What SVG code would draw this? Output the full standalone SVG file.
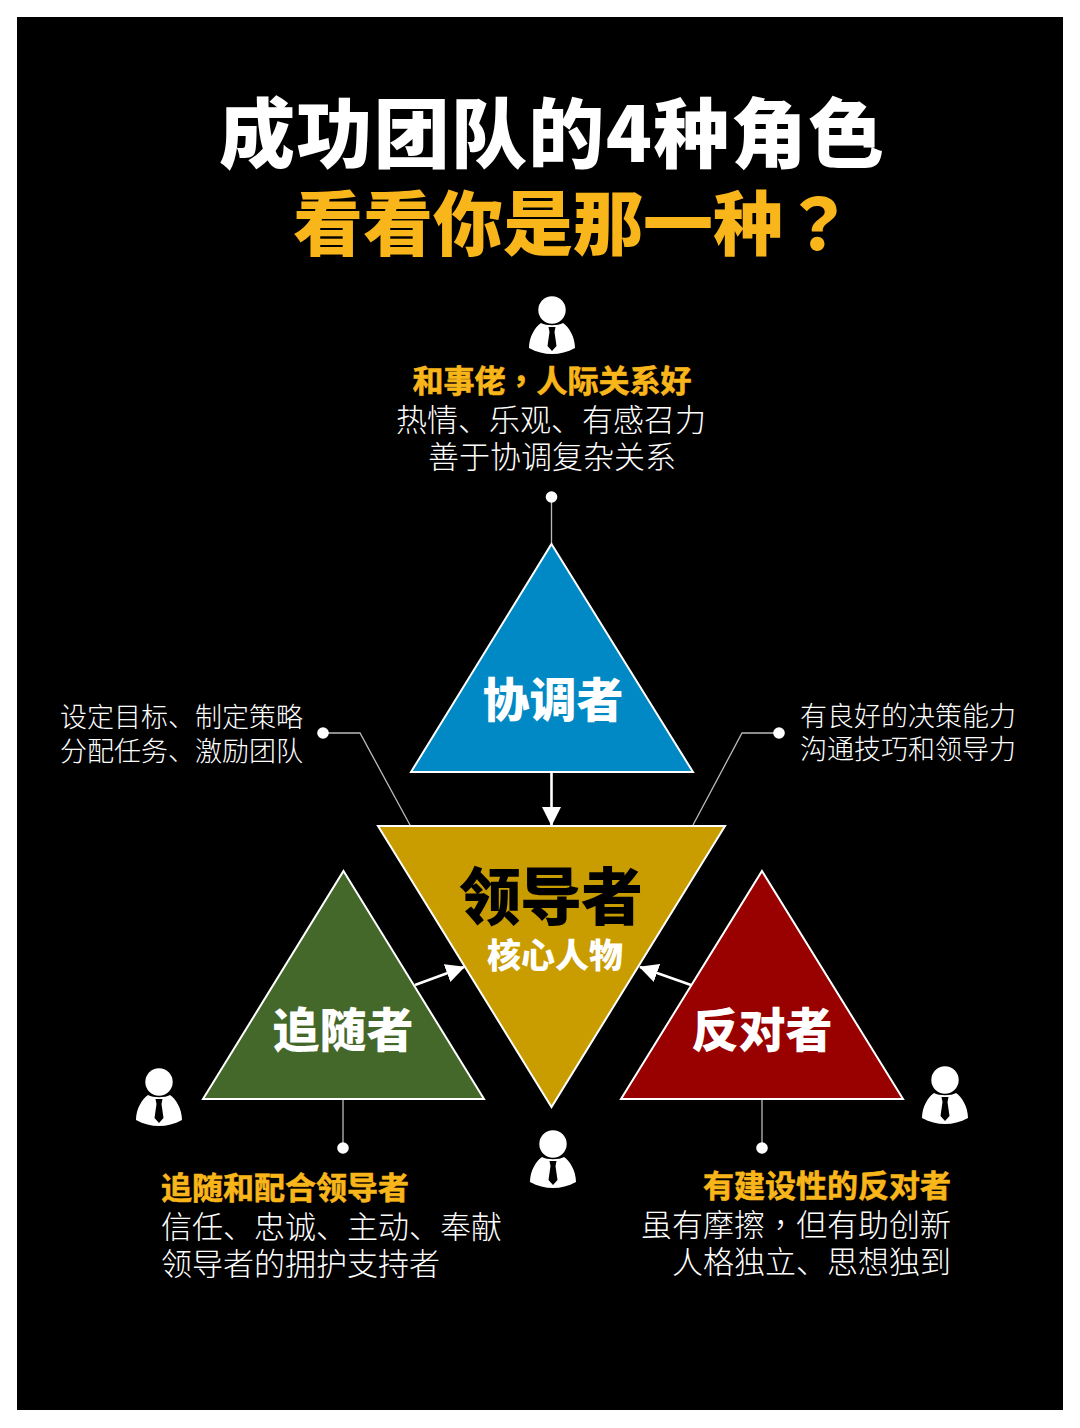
<svg xmlns="http://www.w3.org/2000/svg" xmlns:xlink="http://www.w3.org/1999/xlink" width="1080" height="1428" viewBox="0 0 1080 1428">
<style>
text{font-family:"Noto Sans CJK SC","Noto Sans",sans-serif}
.p{font-family:"Noto Sans CJK TC","Noto Sans",sans-serif}
.t{font-weight:900}
.h{font-size:31px;font-weight:700;fill:#f9b61a;stroke:#f9b61a;stroke-width:.6}
.b{font-size:31px;font-weight:300;fill:#fff}
.s{font-size:27px;font-weight:300;fill:#fff}
.n{font-size:47px;font-weight:900;fill:#fff;text-anchor:middle}
.tri{stroke:#fff;stroke-width:2}
.thin{stroke:#bbb;stroke-width:1.3;fill:none}
.arr{stroke:#fff;stroke-width:2.6;fill:none;marker-end:url(#ah)}
.dot{fill:#fff}
</style>
<defs>
<marker id="ah" markerUnits="userSpaceOnUse" markerWidth="20" markerHeight="20" refX="18" refY="9.5" orient="auto"><path d="M0 0L19 9.5L0 19Z" fill="#fff"/></marker>
<g id="person">
<circle cx="0" cy="-29" r="13.7" fill="#fff"/>
<path d="M-11 -16C-17 -12 -23 -2 -23 9C-8 17 8 17 23 9C23 -2 17 -12 11 -16C6 -13 -6 -13 -11 -16Z" fill="#fff"/>
<path d="M-3.500 -12H3.500L2.500 -7L4.500 7L0 12L-4.500 7L-2.500 -7Z" fill="#000"/>
</g>
</defs>
<rect width="1080" height="1428" fill="#fff"/>
<rect x="17" y="17" width="1046" height="1393" fill="#000"/>
<g id="title">
<text class="t" x="219" y="162" font-size="76" fill="#fff" textLength="665" lengthAdjust="spacing">成功团队的4种角色</text>
<text class="t" x="293" y="250" font-size="70" fill="#f9b61a">看看你是那一种<tspan class="p">？</tspan></text>
</g>
<g id="connectors">
<path class="thin" d="M551.500 497V544"/>
<path class="thin" d="M323 733H360L410 825"/>
<path class="thin" d="M779 733H742L693 825"/>
<path class="thin" d="M343 1099V1148"/>
<path class="thin" d="M762 1099V1148"/>
<path class="arr" d="M551.500 772V825"/>
<path class="arr" d="M415 985L464 967"/>
<path class="arr" d="M691 985L640 967"/>
<circle class="dot" cx="551.500" cy="497" r="5.800"/>
<circle class="dot" cx="323" cy="733" r="5.800"/>
<circle class="dot" cx="779" cy="733" r="5.800"/>
<circle class="dot" cx="343" cy="1148" r="5.800"/>
<circle class="dot" cx="762" cy="1148" r="5.800"/>
</g>
<g id="node-coordinator">
<path class="tri" d="M551.500 544L693 772H411Z" fill="#0089c4"/>
<text class="n" x="553" y="717">协调者</text>
<use xlink:href="#person" href="#person" x="552" y="339"/>
<text class="h" x="552" y="392" text-anchor="middle">和事佬<tspan class="p">，</tspan>人际关系好</text>
<text class="b" x="551" y="431" text-anchor="middle">热情、乐观、有感召力</text>
<text class="b" x="552" y="468" text-anchor="middle">善于协调复杂关系</text>
</g>
<g id="node-leader">
<path class="tri" d="M378 826H725L551.500 1107Z" fill="#c99c00"/>
<text x="551" y="920" font-size="62" font-weight="900" fill="#000" text-anchor="middle" textLength="184">领导者</text>
<text x="555" y="968" font-size="34" font-weight="900" fill="#fff" text-anchor="middle">核心人物</text>
<use xlink:href="#person" href="#person" x="553" y="1173"/>
</g>
<g id="node-follower">
<path class="tri" d="M343.500 871L484 1099H203Z" fill="#44682a"/>
<text class="n" x="343" y="1047">追随者</text>
<use xlink:href="#person" href="#person" x="159" y="1111"/>
<text class="h" x="161" y="1199">追随和配合领导者</text>
<text class="b" x="161" y="1238">信任、忠诚、主动、奉献</text>
<text class="b" x="161" y="1275">领导者的拥护支持者</text>
</g>
<g id="node-opponent">
<path class="tri" d="M762 871L903 1099H621Z" fill="#990000"/>
<text class="n" x="762" y="1047">反对者</text>
<use xlink:href="#person" href="#person" x="945" y="1109"/>
<text class="h" x="951" y="1197" text-anchor="end">有建设性的反对者</text>
<text class="b" x="951" y="1236" text-anchor="end">虽有摩擦<tspan class="p">，</tspan>但有助创新</text>
<text class="b" x="951" y="1273" text-anchor="end">人格独立、思想独到</text>
</g>
<g id="label-left">
<text class="s" x="60" y="727">设定目标、制定策略</text>
<text class="s" x="60" y="761">分配任务、激励团队</text>
</g>
<g id="label-right">
<text class="s" x="800" y="726">有良好的决策能力</text>
<text class="s" x="800" y="759">沟通技巧和领导力</text>
</g>
</svg>
